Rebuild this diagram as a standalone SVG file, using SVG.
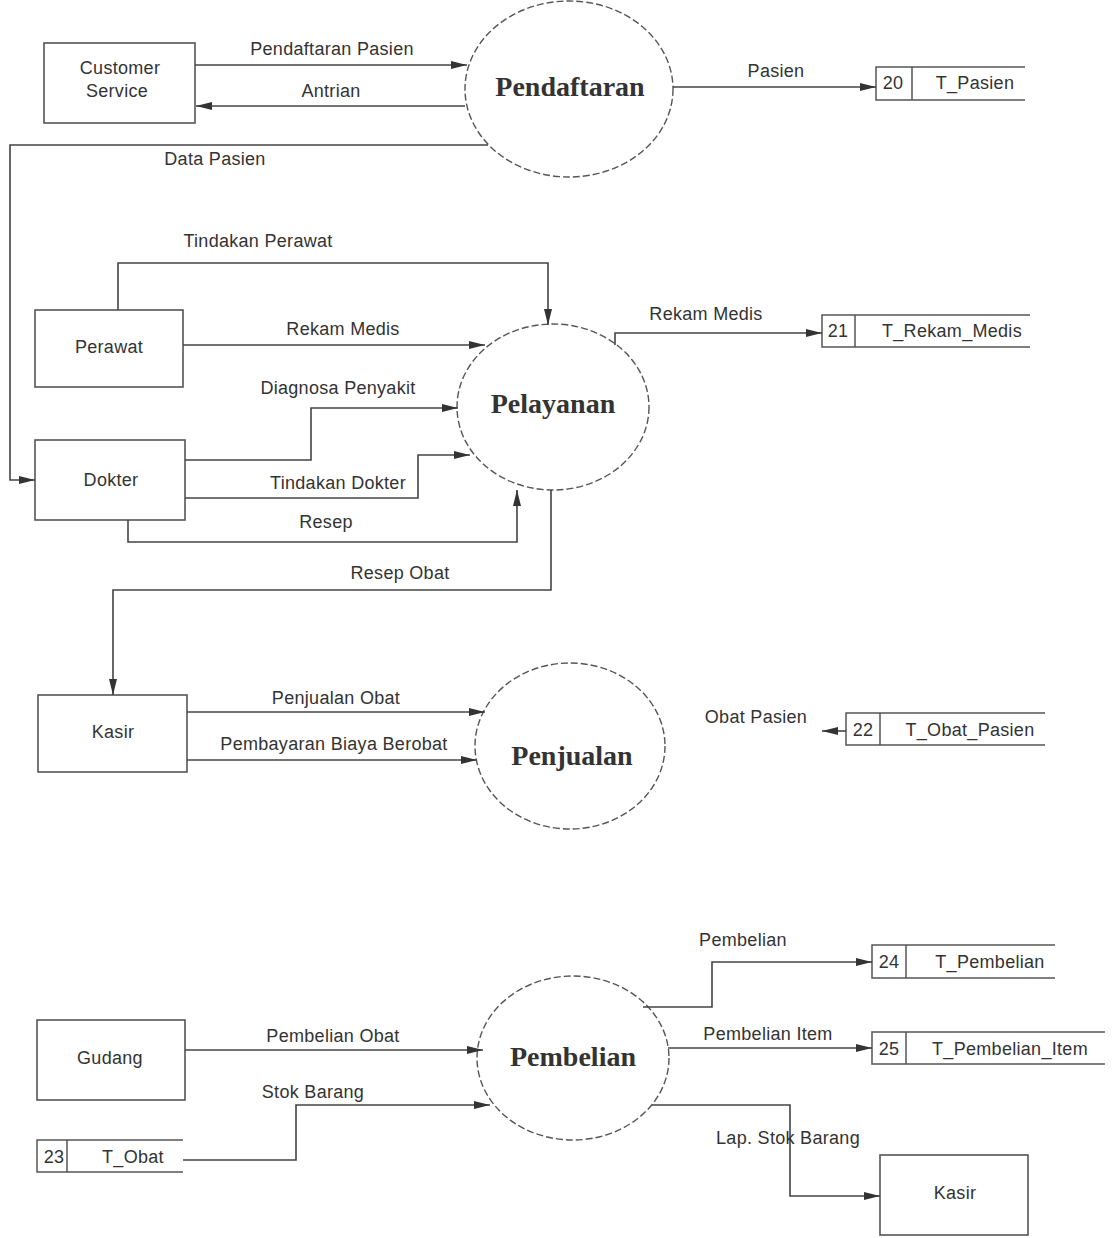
<svg xmlns="http://www.w3.org/2000/svg" width="1116" height="1238" viewBox="0 0 1116 1238">
<style>
.bg{fill:#fff}
.box{fill:none;stroke:#555;stroke-width:1.6}
.proc{fill:none;stroke:#555;stroke-width:1.4;stroke-dasharray:7 3}
.ds{fill:none;stroke:#555;stroke-width:1.5}
.lbl{font-family:"Liberation Sans",Arial,sans-serif;font-size:18px;letter-spacing:0.3px;fill:#333;text-anchor:middle}
.ptxt{font-family:"Liberation Serif","Times New Roman",serif;font-size:28px;font-weight:bold;fill:#333;text-anchor:middle}
.flow{fill:none;stroke:#444;stroke-width:1.6}
</style>
<defs>
<marker id="arr" markerWidth="16" markerHeight="10" refX="16" refY="5" orient="auto" markerUnits="userSpaceOnUse">
<path d="M0,1 L16,5 L0,9 z" fill="#333"/>
</marker>
</defs>
<rect class="bg" x="0" y="0" width="1116" height="1238"/>

<g id="customer-service">
<rect class="box" x="44" y="43" width="151" height="80"/>
<text class="lbl" x="120" y="74">Customer</text>
<text class="lbl" x="117" y="97">Service</text>
</g>
<g id="pendaftaran">
<ellipse class="proc" cx="569" cy="89" rx="104" ry="88"/>
<text class="ptxt" x="570" y="96">Pendaftaran</text>
</g>
<g id="t-pasien">
<path class="ds" d="M1025,67 H876 V100 H1025 M912,67 V100"/>
<text class="lbl" x="893" y="89">20</text>
<text class="lbl" x="975" y="89">T_Pasien</text>
</g>

<g id="perawat">
<rect class="box" x="35" y="310" width="148" height="77"/>
<text class="lbl" x="109" y="353">Perawat</text>
</g>
<g id="dokter">
<rect class="box" x="35" y="440" width="150" height="80"/>
<text class="lbl" x="111" y="486">Dokter</text>
</g>
<g id="pelayanan">
<ellipse class="proc" cx="553" cy="407" rx="96" ry="83"/>
<text class="ptxt" x="553" y="413">Pelayanan</text>
</g>
<g id="t-rekam-medis">
<path class="ds" d="M1030,315 H822 V347 H1030 M855,315 V347"/>
<text class="lbl" x="838" y="337">21</text>
<text class="lbl" x="952" y="337">T_Rekam_Medis</text>
</g>

<g id="kasir">
<rect class="box" x="38" y="695" width="149" height="77"/>
<text class="lbl" x="113" y="738">Kasir</text>
</g>
<g id="penjualan">
<ellipse class="proc" cx="570" cy="746" rx="95" ry="83"/>
<text class="ptxt" x="572" y="765">Penjualan</text>
</g>
<g id="t-obat-pasien">
<path class="ds" d="M1045,713 H846 V745 H1045 M880,713 V745"/>
<text class="lbl" x="863" y="736">22</text>
<text class="lbl" x="970" y="736">T_Obat_Pasien</text>
</g>

<g id="gudang">
<rect class="box" x="37" y="1020" width="148" height="80"/>
<text class="lbl" x="110" y="1064">Gudang</text>
</g>
<g id="t-obat">
<path class="ds" d="M183,1140 H37 V1172 H183 M67,1140 V1172"/>
<text class="lbl" x="54" y="1163">23</text>
<text class="lbl" x="133" y="1163">T_Obat</text>
</g>
<g id="pembelian">
<ellipse class="proc" cx="573" cy="1058" rx="96" ry="82"/>
<text class="ptxt" x="573" y="1066">Pembelian</text>
</g>
<g id="t-pembelian">
<path class="ds" d="M1055,945 H872 V978 H1055 M906,945 V978"/>
<text class="lbl" x="889" y="968">24</text>
<text class="lbl" x="990" y="968">T_Pembelian</text>
</g>
<g id="t-pembelian-item">
<path class="ds" d="M1105,1032 H872 V1064 H1105 M906,1032 V1064"/>
<text class="lbl" x="889" y="1055">25</text>
<text class="lbl" x="1010" y="1055">T_Pembelian_Item</text>
</g>
<g id="kasir-2">
<rect class="box" x="880" y="1155" width="148" height="80"/>
<text class="lbl" x="955" y="1199">Kasir</text>
</g>

<g id="connectors">
<path class="flow" d="M195,65 H467" marker-end="url(#arr)"/>
<text class="lbl" x="332" y="55">Pendaftaran Pasien</text>
<path class="flow" d="M465,106 H196" marker-end="url(#arr)"/>
<text class="lbl" x="331" y="97">Antrian</text>
<path class="flow" d="M673,87 H876" marker-end="url(#arr)"/>
<text class="lbl" x="776" y="77">Pasien</text>
<path class="flow" d="M488,145 H10 V480 H35" marker-end="url(#arr)"/>
<text class="lbl" x="215" y="165">Data Pasien</text>

<path class="flow" d="M118,310 V263 H548 V325" marker-end="url(#arr)"/>
<text class="lbl" x="258" y="247">Tindakan Perawat</text>
<path class="flow" d="M183,345 H485" marker-end="url(#arr)"/>
<text class="lbl" x="343" y="335">Rekam Medis</text>
<path class="flow" d="M185,460 H311 V408 H458" marker-end="url(#arr)"/>
<text class="lbl" x="338" y="394">Diagnosa Penyakit</text>
<path class="flow" d="M185,498 H418 V455 H470" marker-end="url(#arr)"/>
<text class="lbl" x="338" y="489">Tindakan Dokter</text>
<path class="flow" d="M128,520 V542 H517 V490" marker-end="url(#arr)"/>
<text class="lbl" x="326" y="528">Resep</text>
<path class="flow" d="M615,345 V333 H822" marker-end="url(#arr)"/>
<text class="lbl" x="706" y="320">Rekam Medis</text>
<path class="flow" d="M551,490 V590 H113 V695" marker-end="url(#arr)"/>
<text class="lbl" x="400" y="579">Resep Obat</text>

<path class="flow" d="M187,712 H485" marker-end="url(#arr)"/>
<text class="lbl" x="336" y="704">Penjualan Obat</text>
<path class="flow" d="M187,760 H477" marker-end="url(#arr)"/>
<text class="lbl" x="334" y="750">Pembayaran Biaya Berobat</text>
<path class="flow" d="M846,731 H822" marker-end="url(#arr)"/>
<text class="lbl" x="756" y="723">Obat Pasien</text>

<path class="flow" d="M185,1050 H483" marker-end="url(#arr)"/>
<text class="lbl" x="333" y="1042">Pembelian Obat</text>
<path class="flow" d="M183,1160 H296 V1105 H490" marker-end="url(#arr)"/>
<text class="lbl" x="313" y="1098">Stok Barang</text>
<path class="flow" d="M643,1007 H712 V962 H872" marker-end="url(#arr)"/>
<text class="lbl" x="743" y="946">Pembelian</text>
<path class="flow" d="M668,1048 H872" marker-end="url(#arr)"/>
<text class="lbl" x="768" y="1040">Pembelian Item</text>
<path class="flow" d="M652,1105 H790 V1196 H880" marker-end="url(#arr)"/>
<text class="lbl" x="788" y="1144">Lap. Stok Barang</text>
</g>
</svg>
